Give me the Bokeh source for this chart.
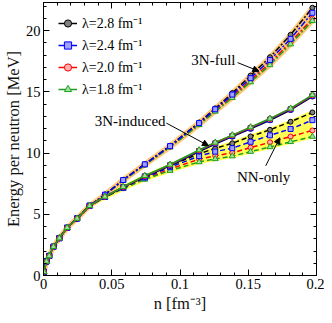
from bokeh.plotting import figure
from bokeh.models import (Range1d, LinearAxis, SingleIntervalTicker, NumeralTickFormatter,
                          Legend, LegendItem, Label, Arrow, NormalHead, CustomJSTickFormatter)
from bokeh.embed import file_html
from bokeh.resources import INLINE

# density grid [fm^-3]
n = [0.0003, 0.0022, 0.0042, 0.0073, 0.0116, 0.0173, 0.0246, 0.0338, 0.0450, 0.0584,
     0.0742, 0.0927, 0.1140, 0.1258, 0.1383, 0.1517, 0.1659, 0.1810, 0.1970]

# low-density part shared by all curves [MeV]
e_low = [0.3, 1.15, 1.6, 2.35, 3.05, 3.9, 4.66, 5.7]

# 3N-full
full_28 = e_low + [6.62, 7.82, 9.10, 10.60, 12.50, 13.65, 14.90, 16.33, 17.83, 19.66, 21.87]
full_24 = e_low + [6.60, 7.80, 9.08, 10.57, 12.45, 13.58, 14.78, 16.12, 17.60, 19.33, 21.46]
full_20 = e_low + [6.58, 7.78, 9.05, 10.52, 12.37, 13.48, 14.63, 15.94, 17.36, 19.06, 20.97]
full_18 = e_low + [6.57, 7.76, 9.02, 10.48, 12.30, 13.40, 14.52, 15.80, 17.20, 18.90, 20.80]

# 3N-induced
ind_28 = e_low + [6.42, 7.20, 8.06, 8.95, 10.12, 10.74, 11.34, 11.98, 12.68, 13.52, 14.62]
ind_24 = e_low + [6.43, 7.22, 8.10, 9.00, 10.17, 10.79, 11.39, 12.03, 12.73, 13.57, 14.67]
ind_20 = e_low + [6.44, 7.23, 8.12, 9.04, 10.22, 10.84, 11.44, 12.09, 12.79, 13.62, 14.72]
ind_18 = e_low + [6.45, 7.25, 8.15, 9.07, 10.25, 10.87, 11.47, 12.12, 12.82, 13.65, 14.75]

# NN-only
nn_28 = e_low + [6.43, 7.20, 8.08, 8.97, 9.95, 10.38, 10.80, 11.36, 11.90, 12.56, 13.32]
nn_24 = e_low + [6.42, 7.17, 8.00, 8.85, 9.75, 10.12, 10.40, 10.92, 11.45, 11.97, 12.69]
nn_20 = e_low + [6.40, 7.13, 7.92, 8.70, 9.50, 9.78, 10.02, 10.45, 10.88, 11.35, 11.85]
nn_18 = e_low + [6.38, 7.10, 7.85, 8.57, 9.27, 9.52, 9.75, 10.12, 10.50, 10.92, 11.35]

legend_labels = ["λ=2.8 fm⁻¹", "λ=2.4 fm⁻¹", "λ=2.0 fm⁻¹", "λ=1.8 fm⁻¹"]
colors = ["#000000", "#0000ff", "#ff0000", "#1f9f1f"]
fills = ["#808080", "#a0a0ff", "#ffb0b0", "#a0e0a0"]
markers = ["circle", "square", "circle", "triangle"]

FONT = "Liberation Serif"

p = figure(width=324, height=315, x_range=Range1d(0, 0.2), y_range=Range1d(0, 22.3),
           output_backend="svg", toolbar_location=None,
           min_border_left=30, min_border_right=8, min_border_top=2, min_border_bottom=38)
p.xgrid.visible = False
p.ygrid.visible = False
p.outline_line_color = "black"
p.outline_line_width = 1

# bands
p.varea(x=n, y1=nn_18, y2=nn_28, fill_color="#ffff55")
p.line(n, nn_28, line_color="#ffff55", line_width=4)
p.line(n, nn_18, line_color="#ffff55", line_width=4)
p.varea(x=n, y1=full_18, y2=full_28, fill_color="#ffc878")
p.line(n, full_28, line_color="#ffc878", line_width=5)
p.line(n, full_18, line_color="#ffc878", line_width=5)

groups = [
    ([full_28, full_24, full_20, full_18], "6 2 2 2"),
    ([nn_28, nn_24, nn_20, nn_18], "5 3"),
    ([ind_28, ind_24, ind_20, ind_18], "solid"),
]
order = [0, 2, 3, 1]
legend_renderers = {}
for series, dash in groups:
    oidx = order if dash != "solid" else [0, 1, 2, 3]
    for i in oidx:
        ln = p.line(n, series[i], line_color=colors[i], line_width=1.5, line_dash=dash)
        sc = p.scatter(n, series[i], marker=markers[i], size=5 if markers[i] != "triangle" else 6,
                       line_color=colors[i], fill_color=fills[i], line_width=1)
        if dash == "solid":
            legend_renderers[i] = [ln, sc]

items = [LegendItem(label=legend_labels[i], renderers=legend_renderers[i]) for i in range(4)]
legend = Legend(items=items, location=(15, 177), glyph_width=19, glyph_height=18,
                label_height=18, label_standoff=5, spacing=3, padding=0, margin=0,
                border_line_color=None, background_fill_alpha=0,
                label_text_font=FONT, label_text_font_size="14px", label_text_color="black")
p.add_layout(legend)

# axes
xt = SingleIntervalTicker(interval=0.05, num_minor_ticks=5)
yt = SingleIntervalTicker(interval=5, num_minor_ticks=5)
p.xaxis.ticker = xt
p.yaxis.ticker = yt
p.xaxis.formatter = NumeralTickFormatter(format="0.[00]")
for ax in [p.xaxis[0], p.yaxis[0]]:
    ax.major_tick_in = 6
    ax.major_tick_out = 0
    ax.minor_tick_in = 3
    ax.minor_tick_out = 0
    ax.axis_line_color = "black"
    ax.major_label_text_font = FONT
    ax.major_label_text_font_size = "14.5px"
    ax.major_label_text_color = "black"
    ax.axis_label_text_font = FONT
    ax.axis_label_text_font_size = "16.5px"
    ax.axis_label_text_font_style = "normal"
    ax.axis_label_text_color = "#111111"
p.xaxis.axis_label = "n [fm⁻³]"
p.yaxis.axis_label = "Energy per neutron [MeV]"
p.xaxis.major_label_standoff = 3
p.yaxis.major_label_standoff = 3
p.xaxis.axis_label_standoff = 2
p.yaxis.axis_label_standoff = 0

blank = CustomJSTickFormatter(code="return ''")
top = LinearAxis(ticker=SingleIntervalTicker(interval=0.05, num_minor_ticks=5), formatter=blank,
                 major_tick_in=6, major_tick_out=0, minor_tick_in=3, minor_tick_out=0,
                 major_label_standoff=0, major_label_text_font_size="0px")
right = LinearAxis(ticker=SingleIntervalTicker(interval=5, num_minor_ticks=5), formatter=blank,
                   major_tick_in=6, major_tick_out=0, minor_tick_in=3, minor_tick_out=0,
                   major_label_standoff=0, major_label_text_font_size="0px")
p.add_layout(top, "above")
p.add_layout(right, "right")

# annotations
for x, y, t in [(0.1245, 17.6, "3N-full"), (0.0635, 12.64, "3N-induced"), (0.1613, 8.06, "NN-only")]:
    p.add_layout(Label(x=x, y=y, text=t, text_font=FONT, text_font_size="15px",
                       text_align="center", text_baseline="middle", text_color="black"))
for xs, ys, xe, ye in [(0.1422, 17.39, 0.1578, 16.69), (0.0900, 12.45, 0.1209, 10.60),
                       (0.1628, 8.96, 0.1731, 11.25)]:
    p.add_layout(Arrow(x_start=xs, y_start=ys, x_end=xe, y_end=ye, line_width=1, line_color="black",
                       end=NormalHead(size=6, fill_color="black", line_color="black")))

open("out.html", "w").write(file_html(p, INLINE))
